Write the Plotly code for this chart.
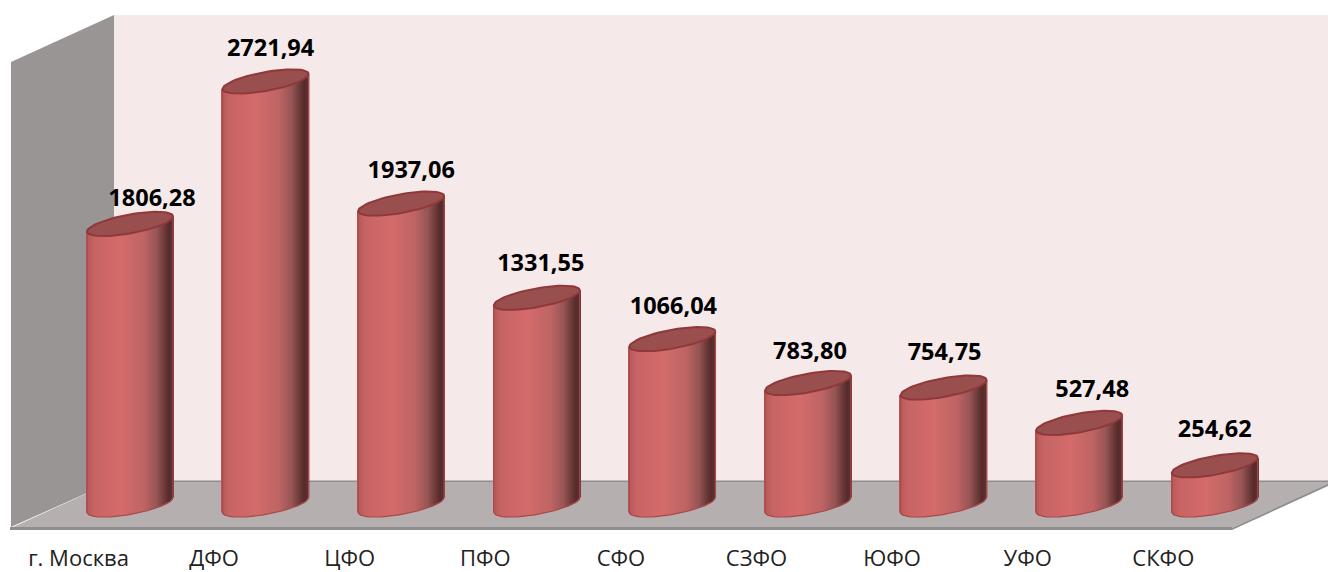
import math
import plotly.graph_objects as go

# ---- data ----
categories = ["г. Москва", "ДФО", "ЦФО", "ПФО", "СФО", "СЗФО", "ЮФО", "УФО", "СКФО"]
values = [1806.28, 2721.94, 1937.06, 1331.55, 1066.04, 783.80, 754.75, 527.48, 254.62]

# ---- label nudges (pixels) ----
label_dx = [22, 5, 10, 4, 1, 2, 1, 13, 0]
label_dy = [24, 31, 31, 33, 31, 30, 33, 32, 34]

# ---- geometry ----
W, H = 1328, 572
BOTTOM = 30
PLOT_H = H - BOTTOM
X0_PX, X_STEP = 130.0, 135.6     # pixel position of first category, pixels per category
Y0_PX, Y_SCALE = 505.0, 0.1556   # pixel position of value 0, pixels per value unit
A, K, B = 43.0, 7.5, 9.5         # half width, tilt, half height of the ellipses
TICK_SHIFT = -51.5 / X_STEP

x_range = [(0 - X0_PX) / X_STEP, (W - X0_PX) / X_STEP]
y_range = [(Y0_PX - PLOT_H) / Y_SCALE, Y0_PX / Y_SCALE]

STOPS = [(0.0, (182, 88, 88)), (0.1, (200, 100, 100)), (0.4, (212, 107, 107)),
         (0.67, (190, 100, 100)), (0.82, (150, 84, 84)), (0.96, (84, 42, 42)), (1.0, (96, 48, 48))]


def shade(f):
    for (f0, c0), (f1, c1) in zip(STOPS, STOPS[1:]):
        if f <= f1:
            t = (f - f0) / (f1 - f0)
            return "rgb(%d,%d,%d)" % tuple(round(a + (b - a) * t) for a, b in zip(c0, c1))
    return "rgb(%d,%d,%d)" % STOPS[-1][1]


def lower_edge(dx_px):
    c = max(-1.0, min(1.0, dx_px / A))
    return (K * c - B * math.sqrt(1 - c * c)) / Y_SCALE


def ellipse(i, v, n=72):
    xs, ys = [], []
    for j in range(n + 1):
        t = 2 * math.pi * j / n
        xs.append(i + A * math.cos(t) / X_STEP)
        ys.append(v + (K * math.cos(t) + B * math.sin(t)) / Y_SCALE)
    return xs, ys


def px(x, y):
    return x / W, 1 - y / PLOT_H


def poly(points, fill, line=None, width=0):
    parts = []
    for n, (x, y) in enumerate(points):
        a, b = px(x, y)
        parts.append(("M" if n == 0 else "L") + f"{a:.5f},{b:.5f}")
    return dict(type="path", xref="paper", yref="paper", layer="below",
                path=" ".join(parts) + " Z", fillcolor=fill,
                line=dict(color=line or fill, width=width))


shapes = [
    poly([(114, 15), (W, 15), (W, 482), (114, 482)], "#F5E9E9"),
    poly([(11, 62), (114, 15), (114, 481), (11, 527)], "#9A9595"),
    poly([(11, 528), (114, 481), (W, 481), (W, 485), (1232, 528)], "#B6AFAF"),
    poly([(114, 481), (W, 481), (W, 481.5), (114, 481.5)], "#8E8E8E", "#8E8E8E", 1),
    poly([(10, 527), (1232, 527), (1232, 530), (10, 530)], "#8E8E8E"),
    poly([(1232, 528), (W, 484), (W, 486), (1232, 530)], "#8E8E8E"),
]

fig = go.Figure()

# cylinder bodies: vertical one-pixel slices of a horizontal gradient
bx, by, bb, bc = [], [], [], []
steps = int(2 * A)
for i, v in enumerate(values):
    for j in range(steps + 1):
        dx = -A + 2 * A * j / steps
        bx.append(i + dx / X_STEP)
        bb.append(lower_edge(dx))
        by.append(v)
        bc.append(shade(j / steps))
fig.add_trace(go.Bar(x=bx, y=by, base=bb, width=1.3 / X_STEP, marker=dict(color=bc, line=dict(width=0)),
                     showlegend=False, hoverinfo="skip"))

# cylinder outlines and tops
for i, v in enumerate(values):
    n = 40
    ox = [i - A / X_STEP] + [i + (-A + 2 * A * j / n) / X_STEP for j in range(n + 1)] + [i + A / X_STEP]
    oy = [v + K * -1 / Y_SCALE] + [lower_edge(-A + 2 * A * j / n) for j in range(n + 1)] + [v + K / Y_SCALE]
    fig.add_trace(go.Scatter(x=ox, y=oy, mode="lines", line=dict(color="#A84A4A", width=1.2),
                             showlegend=False, hoverinfo="skip"))
    ex, ey = ellipse(i, v)
    fig.add_trace(go.Scatter(x=ex, y=ey, mode="lines", fill="toself", fillcolor="#9A4F4F",
                             line=dict(color="#90383A", width=2), showlegend=False, hoverinfo="skip"))

# value labels
fig.add_trace(go.Scatter(
    x=[i + d / X_STEP for i, d in enumerate(label_dx)],
    y=[v + d / Y_SCALE for v, d in zip(values, label_dy)],
    mode="text",
    text=[f"{v:.2f}".replace(".", ",") for v in values],
    textposition="middle center",
    textfont=dict(family="Open Sans", size=23.5, color="#000000", weight="bold"),
    showlegend=False, cliponaxis=False, hoverinfo="skip"))

fig.update_layout(
    width=W, height=H,
    margin=dict(l=0, r=0, t=0, b=BOTTOM, pad=0, autoexpand=False),
    paper_bgcolor="#FFFFFF", plot_bgcolor="rgba(0,0,0,0)",
    shapes=shapes, barmode="overlay",
    font=dict(family="Open Sans", color="#222222"),
    xaxis=dict(range=x_range, tickmode="array", automargin=False,
               tickvals=[i + TICK_SHIFT for i in range(len(categories))],
               ticktext=categories, showgrid=False, zeroline=False, showline=False,
               ticks="", ticklabelstandoff=1,
               tickfont=dict(family="Open Sans", size=22, color="#222222")),
    yaxis=dict(range=y_range, visible=False, showgrid=False, zeroline=False, automargin=False),
)

fig.write_html("out.html", config={"displayModeBar": False},
               post_script="document.body.style.margin='0';document.body.style.overflow='hidden';")
